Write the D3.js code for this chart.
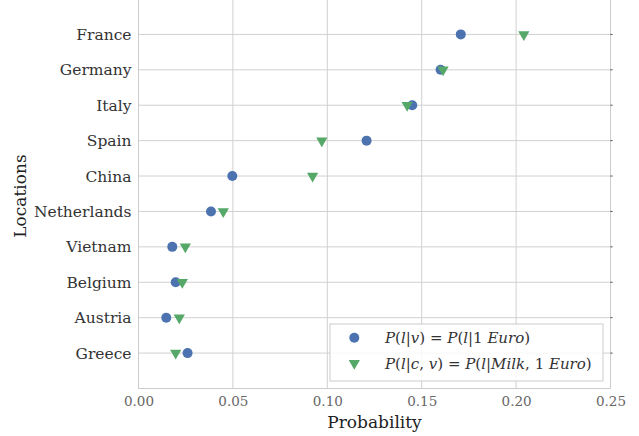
<!DOCTYPE html>
<html><head><meta charset="utf-8">
<script src="https://cdn.jsdelivr.net/npm/d3@7"></script>
<style>body{margin:0;background:#fff}svg{display:block}</style>
</head><body>
<svg id="c" width="639" height="436"></svg>
<script>
const locations = ["France","Germany","Italy","Spain","China","Netherlands","Vietnam","Belgium","Austria","Greece"];
const pEuro = [0.1707,0.1600,0.1450,0.1208,0.0497,0.0384,0.0179,0.0197,0.0147,0.0260];
const pMilkEuro = [0.2041,0.1613,0.1423,0.0971,0.0922,0.0449,0.0248,0.0232,0.0216,0.0197];
const xTicks = [0,0.05,0.10,0.15,0.20,0.25];

const FONT = "'DejaVu Serif', serif";
const svg = d3.select("#c");
const L = 138.5, R = 610.5, T = -1, B = 388.5;
const x = d3.scaleLinear().domain([0,0.25]).range([L,R]);
const y = d3.scalePoint().domain(locations).range([T,B]).padding(1);

// grid
svg.append("g").selectAll("line").data(xTicks).join("line")
  .attr("x1",d=>x(d)).attr("x2",d=>x(d)).attr("y1",0).attr("y2",B)
  .attr("stroke","#d0d0d0").attr("stroke-width",1);
svg.append("g").selectAll("line").data(locations).join("line")
  .attr("x1",L).attr("x2",R).attr("y1",d=>y(d)).attr("y2",d=>y(d))
  .attr("stroke","#d0d0d0").attr("stroke-width",1);
// frame
svg.append("rect").attr("x",L).attr("y",-1).attr("width",R-L).attr("height",B+1)
  .attr("fill","none").attr("stroke","#cccccc");
// right small ticks
svg.append("g").selectAll("line").data(locations).join("line")
  .attr("x1",R).attr("x2",R+2).attr("y1",d=>y(d)).attr("y2",d=>y(d))
  .attr("stroke","#444").attr("stroke-width",1);

// axes labels
const xa = d3.axisBottom(x).tickValues(xTicks).tickFormat(d3.format(".2f")).tickSize(0).tickPadding(8);
const gx = svg.append("g").attr("transform",`translate(0,${B})`).call(xa);
gx.select(".domain").remove();
gx.selectAll("text").attr("font-family",FONT).attr("font-size",13.5).attr("fill","#666");

const ya = d3.axisLeft(y).tickSize(0).tickPadding(7);
const gy = svg.append("g").attr("transform",`translate(${L},0)`).call(ya);
gy.select(".domain").remove();
gy.selectAll("text").attr("font-family",FONT).attr("font-size",15.5).attr("fill","#333");

svg.append("text").attr("x",x(0.125)).attr("y",428).attr("text-anchor","middle")
  .attr("font-family",FONT).attr("font-size",17).attr("fill","#222").text("Probability");
svg.append("text").attr("transform",`translate(26,${y("China")+20}) rotate(-90)`).attr("text-anchor","middle")
  .attr("font-family",FONT).attr("font-size",17).attr("fill","#222").text("Locations");

const blue = "#4C72B0", green = "#55A868";
const tri = d3.symbol().type(d3.symbolTriangle).size(55);
// series
svg.append("g").selectAll("circle").data(locations).join("circle")
  .attr("cx",(d,i)=>x(pEuro[i])).attr("cy",d=>y(d)).attr("r",5).attr("fill",blue);
svg.append("g").selectAll("path").data(locations).join("path")
  .attr("d",tri).attr("transform",(d,i)=>`translate(${x(pMilkEuro[i])},${y(d)}) rotate(180)`).attr("fill",green);

// legend
const lg = svg.append("g");
lg.append("rect").attr("x",330).attr("y",324).attr("width",273).attr("height",57)
  .attr("fill","#fff").attr("fill-opacity",0.85).attr("stroke","#cccccc");
lg.append("circle").attr("cx",354.3).attr("cy",337.7).attr("r",5).attr("fill",blue);
lg.append("path").attr("d",tri).attr("transform","translate(354.3,363.3) rotate(180)").attr("fill",green);
function mathText(yy, parts){
  const t = lg.append("text").attr("x",385).attr("y",yy).attr("font-family",FONT).attr("font-size",15).attr("fill","#333");
  parts.forEach(([s,it])=>t.append("tspan").attr("font-style",it?"italic":"normal").text(s));
}
mathText(343, [["P",1],["(",0],["l",1],["|",0],["v",1],[") = ",0],["P",1],["(",0],["l",1],["|1 ",0],["Euro",1],[")",0]]);
mathText(368.5, [["P",1],["(",0],["l",1],["|",0],["c",1],[", ",0],["v",1],[") = ",0],["P",1],["(",0],["l",1],["|",0],["Milk",1],[", 1 ",0],["Euro",1],[")",0]]);
</script>
</body></html>
